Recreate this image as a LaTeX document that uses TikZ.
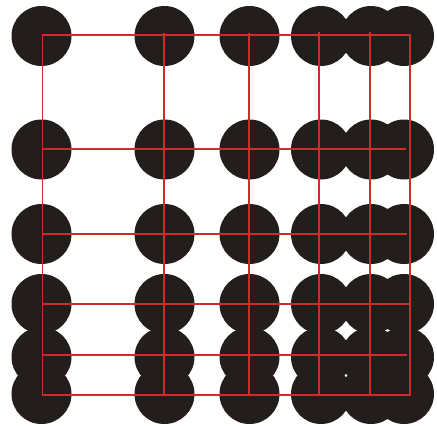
\documentclass[tikz,border=0pt]{standalone}
\usepackage{xcolor}
\definecolor{dotblack}{RGB}{35,29,28}
\definecolor{gridred}{RGB}{206,44,40}
\begin{document}
\begin{tikzpicture}[x=1pt,y=-1pt]
                \useasboundingbox (0,0) rectangle (437,426);
                % Dots
                \foreach \x in {41.5,164.5,249.5,321,371,404}
                  \foreach \y in {36,149.5,234,304,357,394}
                    \fill[dotblack] (\x,\y) circle (30);
                
                % Outer frame
                \draw[gridred, line width=1.9pt] (42.5,34.7) rectangle (410,395);
                
                % Inner rows
                \draw[gridred, line width=1.9pt] (42.5,149) -- (405.5,149);
                \draw[gridred, line width=1.9pt] (42.5,233.7) -- (407,233.7);
                \draw[gridred, line width=1.9pt] (42.5,303.7) -- (410,303.7);
                \draw[gridred, line width=1.9pt] (42.5,355) -- (407,355);
                
                % Inner columns
                \draw[gridred, line width=1.9pt] (163.8,32.5) -- (163.8,395);
                \draw[gridred, line width=1.9pt] (248.7,32.5) -- (248.7,395);
                \draw[gridred, line width=1.9pt] (319,31.5) -- (319,395);
                \draw[gridred, line width=1.9pt] (370.3,32.3) -- (370.3,395);
            \end{tikzpicture}
\end{document}
